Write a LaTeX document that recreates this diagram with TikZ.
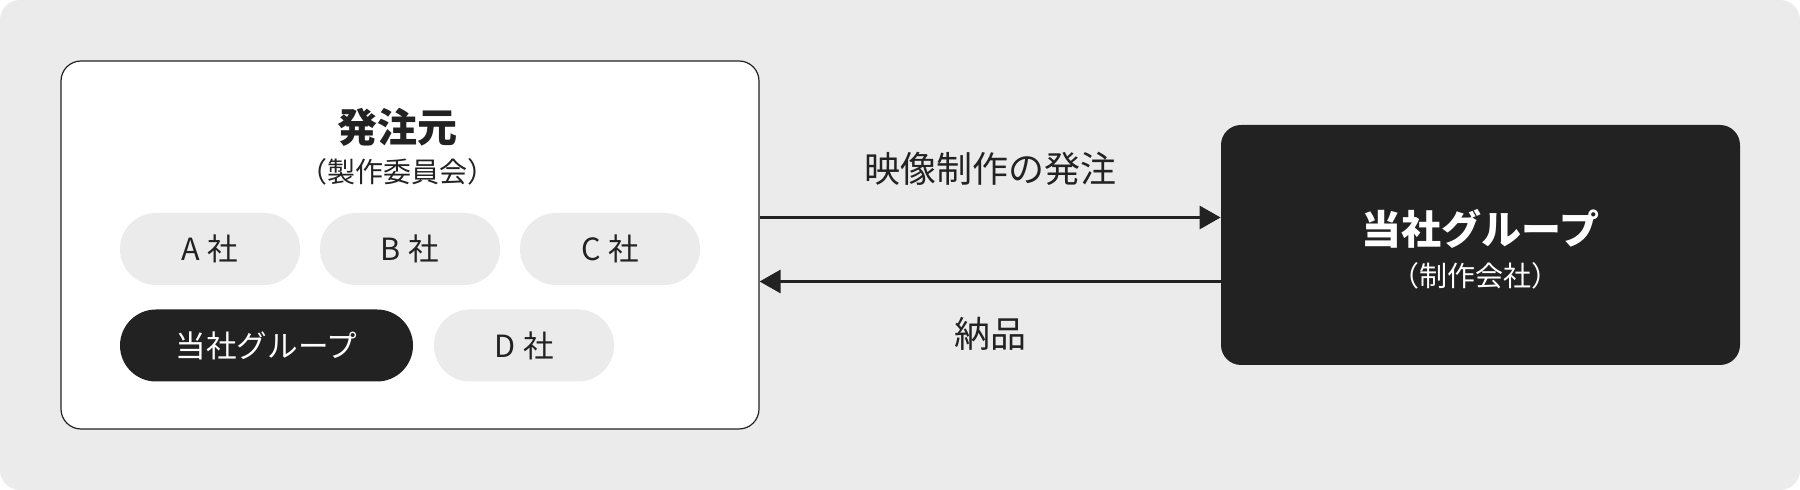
\documentclass[tikz,border=0pt]{standalone}
\usepackage{fontspec}
\setmainfont{Noto Sans CJK JP}
\usetikzlibrary{arrows.meta}
\definecolor{ink}{HTML}{222222}
\definecolor{pale}{HTML}{EBEBEB}
\tikzset{pill/.style={fill=pale, text=ink, rounded corners=18pt, minimum width=90pt, minimum height=36pt, font=\fontsize{15.3}{15.3}\selectfont}}
\tikzset{pilldark/.style={pill, fill=ink, text=white}}
\tikzset{ttl/.style={font=\fontsize{20}{20}\selectfont\bfseries}}
\tikzset{sub/.style={font=\fontsize{14}{14}\selectfont}}
\tikzset{lbl/.style={text=ink, font=\fontsize{18}{18}\selectfont}}
\tikzset{arr/.style={draw=ink, line width=1.5pt, -{Triangle[length=10.5pt,width=11.5pt]}}}

\begin{document}
\begin{tikzpicture}[x=0.5pt, y=-0.5pt]
        \useasboundingbox (0,0) rectangle (1800,490);
        \fill[pale, rounded corners=10pt] (0,0) rectangle (1800,490);
        % client side
        \node[draw=ink, line width=0.6pt, fill=white, rounded corners=10pt, minimum width=349pt, minimum height=184pt] (client) at (410,245) {};
        \node[ttl, text=ink] (clientttl) at (397,127) {発注元};
        \node[sub, text=ink] (clientsub) at (397,172) {（製作委員会）};
        \node[pill] (A) at (210,249) {A\hspace{0.25em}社};
        \node[pill] (B) at (410,249) {B\hspace{0.25em}社};
        \node[pill] (C) at (610,249) {C\hspace{0.25em}社};
        \node[pilldark, minimum width=146.5pt] (us) at (266.5,345.5) {当社グループ};
        \node[pill] (D) at (524,345.5) {D\hspace{0.25em}社};
        % production side
        \node[fill=ink, rounded corners=10pt, minimum width=259.5pt, minimum height=120pt] (group) at (1480.5,245) {};
        \node[ttl, text=white] (groupttl) at (1480.5,229) {当社グループ};
        \node[sub, text=white] (groupsub) at (1475,276) {（制作会社）};
        % flows
        \draw[arr] (client.east |- 0,217.5) -- (group.west |- 0,217.5);
        \draw[arr] (group.west |- 0,281.5) -- (client.east |- 0,281.5);
        \node[lbl] (order) at (990,169) {映像制作の発注};
        \node[lbl] (deliver) at (990,334) {納品};
\end{tikzpicture}
\end{document}
